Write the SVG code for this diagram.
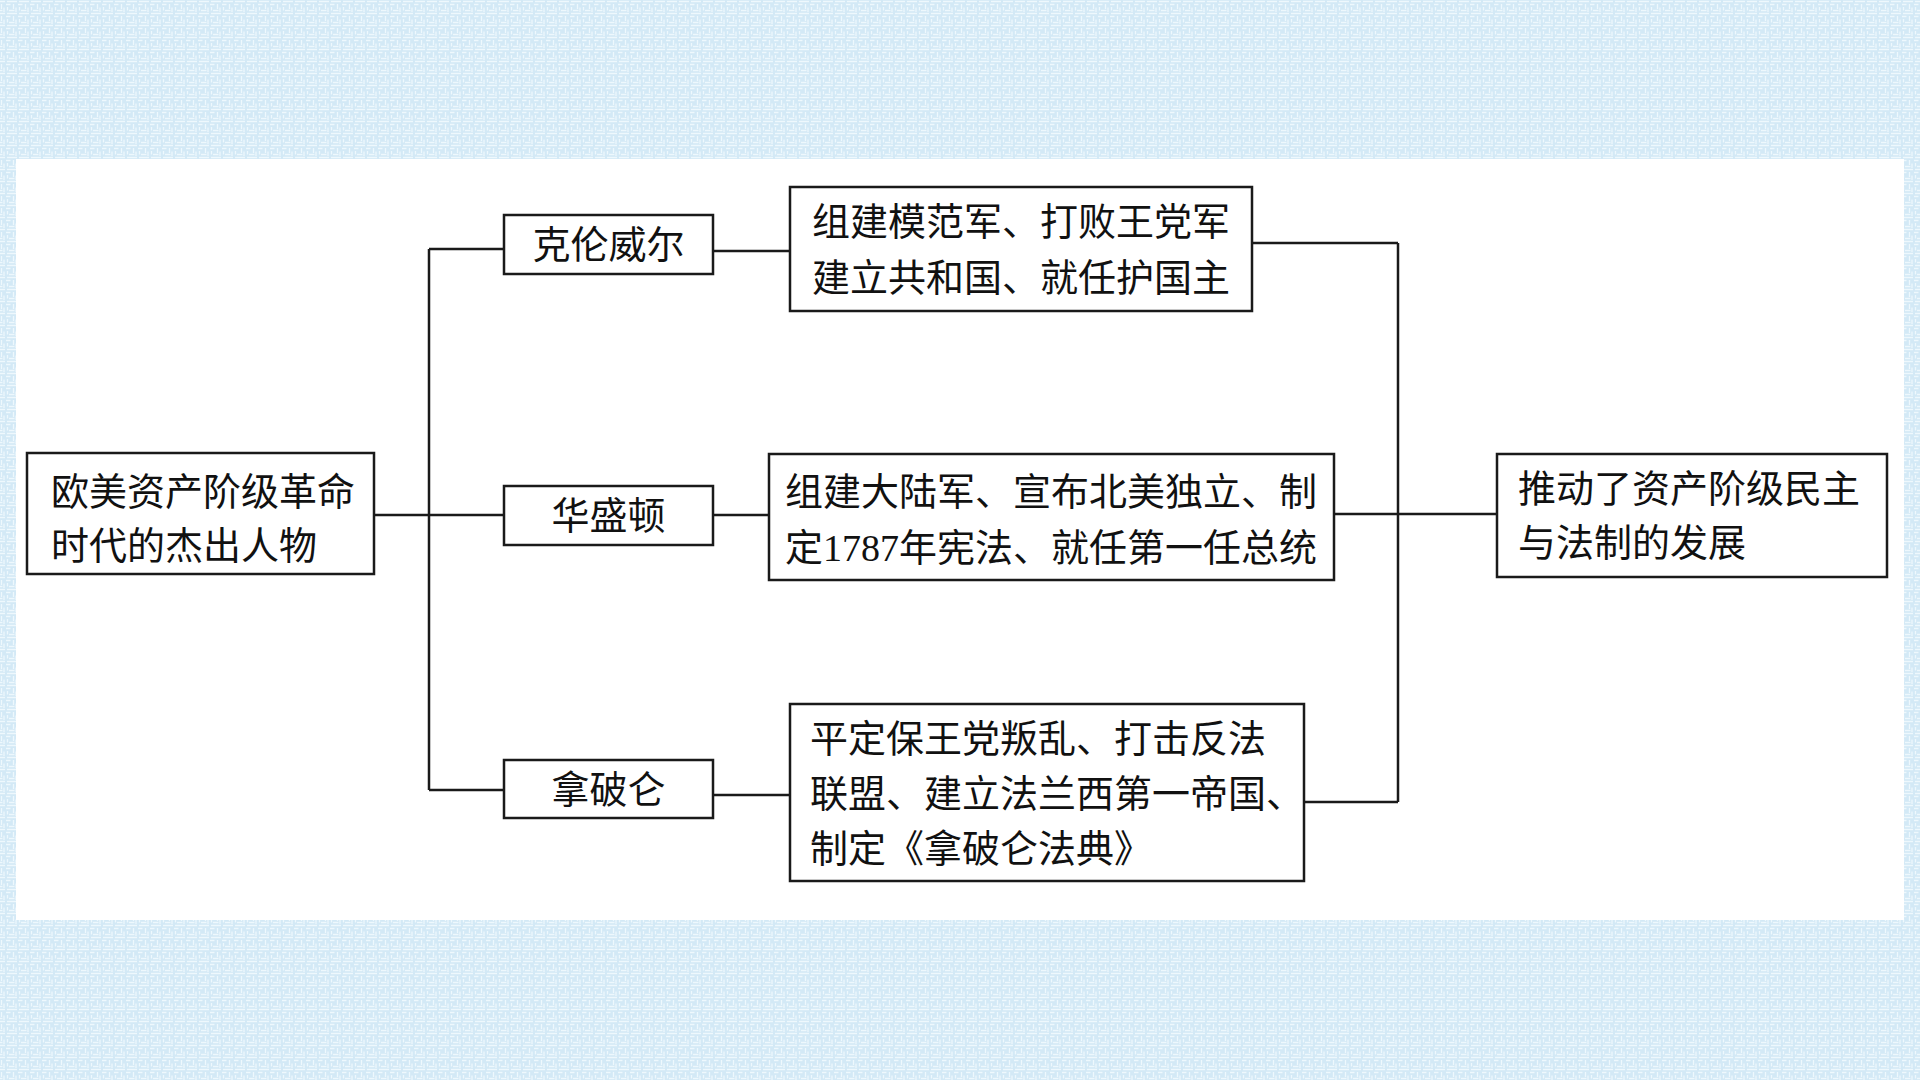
<svg xmlns="http://www.w3.org/2000/svg" width="1920" height="1080" viewBox="0 0 1920 1080">
<style>
.box{fill:#ffffff;stroke:#1a1a1a;stroke-width:2.5}
.t{font-family:"Liberation Serif","Noto Sans CJK SC",serif;font-size:38px;fill:#111111}
.c{fill:none;stroke:#1a1a1a;stroke-width:2.5}
</style>
<defs>
<pattern id="tex" width="12" height="12" patternUnits="userSpaceOnUse">
<rect width="12" height="12" fill="#d3e9f6"/>
<path d="M0 1.5H5M7 1.5H12M1.5 4V9M6 4.5H10.5M4 7.5V12M7.5 7V10.5M9 10.5H12M0 10.5H2.5" stroke="#eef8fd" stroke-width="1.3"/>
</pattern>
</defs>
<rect width="1920" height="1080" fill="url(#tex)"/>
<rect x="16" y="159" width="1888" height="761" fill="#ffffff"/>
<g id="connectors">
<path class="c" d="M374 515H503M429 249V790M429 249H503M429 790H503"/>
<path class="c" d="M713 251H790M713 515H769M713 795H790"/>
<path class="c" d="M1252 243H1398M1334 514H1497M1304 802H1398M1398 243V802"/>
</g>
<g id="root">
<rect class="box" x="27" y="453" width="347" height="121"/>
<text class="t" x="51" y="505">欧美资产阶级革命</text>
<text class="t" x="51" y="559">时代的杰出人物</text>
</g>
<g id="cromwell">
<rect class="box" x="504" y="215" width="209" height="59"/>
<text class="t" x="608.5" y="258" text-anchor="middle">克伦威尔</text>
</g>
<g id="washington">
<rect class="box" x="504" y="486" width="209" height="59"/>
<text class="t" x="608.5" y="529" text-anchor="middle">华盛顿</text>
</g>
<g id="napoleon">
<rect class="box" x="504" y="760" width="209" height="58"/>
<text class="t" x="608.5" y="803" text-anchor="middle">拿破仑</text>
</g>
<g id="cromwell-deeds">
<rect class="box" x="790" y="187" width="462" height="124"/>
<text class="t" x="812" y="235">组建模范军、打败王党军</text>
<text class="t" x="812" y="291">建立共和国、就任护国主</text>
</g>
<g id="washington-deeds">
<rect class="box" x="769" y="454" width="565" height="126"/>
<text class="t" x="785" y="505">组建大陆军、宣布北美独立、制</text>
<text class="t" x="785" y="561">定1787年宪法、就任第一任总统</text>
</g>
<g id="napoleon-deeds">
<rect class="box" x="790" y="704" width="514" height="177"/>
<text class="t" x="810" y="752">平定保王党叛乱、打击反法</text>
<text class="t" x="810" y="807">联盟、建立法兰西第一帝国、</text>
<text class="t" x="810" y="862">制定《拿破仑法典》</text>
</g>
<g id="result">
<rect class="box" x="1497" y="454" width="390" height="123"/>
<text class="t" x="1518" y="502">推动了资产阶级民主</text>
<text class="t" x="1518" y="556">与法制的发展</text>
</g>
</svg>
